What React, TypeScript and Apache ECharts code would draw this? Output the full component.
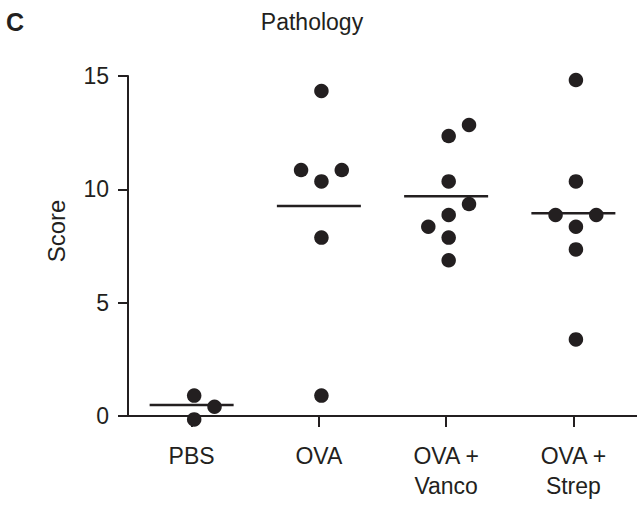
import React, { useEffect, useRef } from "react";
import * as echarts from "echarts";

const categories = ["PBS", "OVA", "OVA +\nVanco", "OVA +\nStrep"];
const yTicks = { min: 0, max: 15, interval: 5 };

// Values per group and horizontal jitter slot (-1 left, 0 centre, +1 right)
const pbsValues = [0.9, 0.41, -0.15];
const pbsSlots = [0, 1, 0];
const ovaValues = [14.34, 10.85, 10.85, 10.35, 7.87, 0.9];
const ovaSlots = [0, -1, 1, 0, 0, 0];
const vancoValues = [12.84, 12.35, 10.35, 9.35, 8.87, 8.35, 7.87, 6.87];
const vancoSlots = [1, 0, 0, 1, 0, -1, 0, 0];
const strepValues = [14.82, 10.35, 8.87, 8.87, 8.35, 7.35, 3.38];
const strepSlots = [0, 0, -1, 1, 0, 0, 0];
const meanValues = [0.49, 9.26, 9.69, 8.94];

const groups = [
  { values: pbsValues, slots: pbsSlots },
  { values: ovaValues, slots: ovaSlots },
  { values: vancoValues, slots: vancoSlots },
  { values: strepValues, slots: strepSlots },
];

const INK = "#231f20";
const FONT = "'Liberation Sans', Arial, Helvetica, sans-serif";

export default function App() {
  const ref = useRef<HTMLDivElement>(null);
  useEffect(() => {
    if (!ref.current) return;
    const chart = echarts.init(ref.current, undefined, { renderer: "svg" });
    const dotData: number[][] = [];
    groups.forEach((g, i) => {
      g.values.forEach((v, k) => {
        dotData.push([i + 0.02 + g.slots[k] * 0.16, v]);
      });
    });
    chart.setOption({
      animation: false,
      backgroundColor: "#ffffff",
      textStyle: { fontFamily: FONT, color: INK },
      grid: { left: 128, right: 0, top: 76, bottom: 90, containLabel: false },
      xAxis: [
        {
          type: "category",
          data: categories,
          boundaryGap: true,
          axisLine: { show: true, onZero: false, lineStyle: { color: INK, width: 2 } },
          axisTick: { show: true, alignWithLabel: true, length: 11, lineStyle: { color: INK, width: 2 } },
          axisLabel: { fontSize: 23, lineHeight: 30, margin: 25, color: INK, fontFamily: FONT },
          splitLine: { show: false },
        },
        {
          type: "value",
          min: -0.5,
          max: 3.5,
          show: false,
        },
      ],
      yAxis: {
        type: "value",
        min: yTicks.min,
        max: yTicks.max,
        interval: yTicks.interval,
        axisLine: { show: true, onZero: false, lineStyle: { color: INK, width: 2 } },
        axisTick: { show: true, length: 10, lineStyle: { color: INK, width: 2 } },
        axisLabel: { fontSize: 23, margin: 19, color: INK, fontFamily: FONT },
        splitLine: { show: false },
      },
      graphic: [
        {
          type: "text",
          left: 6,
          top: 9,
          style: { text: "C", fontSize: 25, fontWeight: "bold", fill: INK, fontFamily: FONT },
        },
        {
          type: "text",
          x: 312,
          y: 22,
          style: {
            text: "Pathology",
            fontSize: 23,
            fill: INK,
            fontFamily: FONT,
            align: "center",
            verticalAlign: "middle",
          },
        },
        {
          type: "text",
          x: 56,
          y: 231,
          rotation: Math.PI / 2,
          style: {
            text: "Score",
            fontSize: 24,
            fill: INK,
            fontFamily: FONT,
            align: "center",
            verticalAlign: "middle",
          },
        },
      ],
      series: [
        {
          type: "scatter",
          xAxisIndex: 1,
          symbol: "rect",
          symbolSize: [84, 2.5],
          itemStyle: { color: INK, opacity: 1 },
          clip: false,
          data: meanValues.map((m, i) => [i, m]),
          z: 2,
        },
        {
          type: "scatter",
          xAxisIndex: 1,
          symbol: "circle",
          symbolSize: 14.5,
          itemStyle: { color: INK, opacity: 1 },
          clip: false,
          data: dotData,
          z: 3,
        },
      ],
    });
    return () => chart.dispose();
  }, []);
  return (
    <div
      ref={ref}
      style={{ position: "fixed", left: 0, top: 0, width: 637, height: 506, background: "#fff" }}
    />
  );
}
